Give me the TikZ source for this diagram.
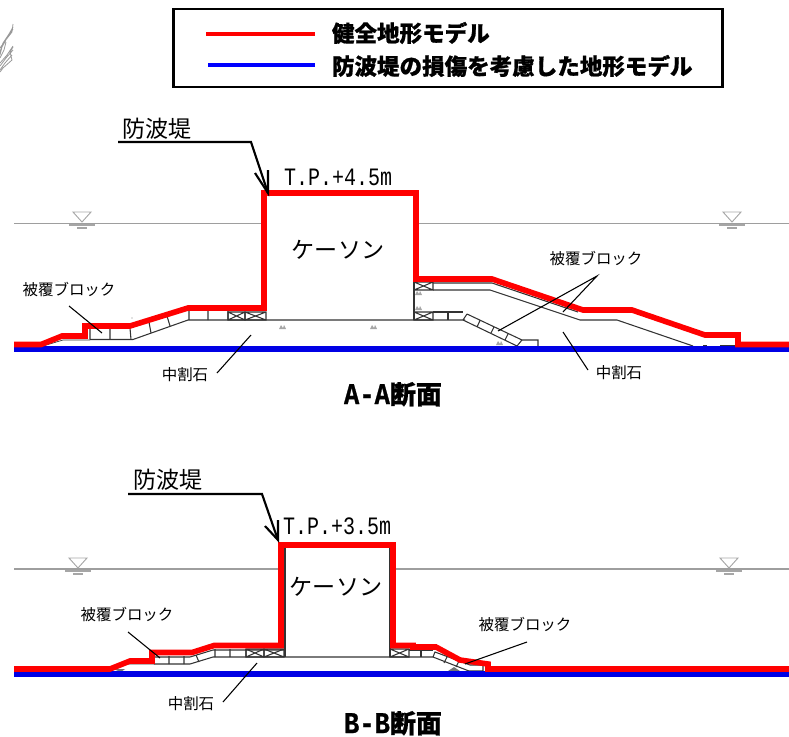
\documentclass[tikz,border=0pt]{standalone}
\usepackage{fontspec}
\newfontfamily\jp[BoldFeatures={FakeBold=0.7}]{Noto Sans CJK JP}
\newfontfamily\mono[FakeStretch=0.8]{Liberation Mono}
\newfontfamily\monob[FakeStretch=0.85,FakeBold=0.8]{Liberation Mono Bold}
\newcommand{\fs}[1]{\fontsize{#1pt}{#1pt}\selectfont}
\newcommand{\xbox}[4]{\draw[struct] (#1,#2) rectangle (#3,#4) (#1,#2) -- (#3,#4) (#1,#4) -- (#3,#2);}
\newcommand{\wsym}[2]{%
  \draw[symb] (#1-9,#2) -- (#1+9,#2) -- (#1,#2+10) -- cycle;
  \draw[symb,line width=1.4pt] (#1-13,#2+13) -- (#1+13,#2+13);
  \draw[symb,line width=1.4pt] (#1-5,#2+16) -- (#1+5,#2+16);}
\newcommand{\blob}[2]{\fill[gray!70] (#1-3,#2+2) -- (#1-1,#2-2) -- (#1+1,#2+1) -- (#1+2,#2-2) -- (#1+4,#2+2) -- cycle;}
\tikzset{
  x=0.75pt,y=-0.75pt,
  every node/.style={inner sep=0pt,outer sep=0pt,font=\jp},
  redline/.style={draw=red,line width=4.2pt,miter limit=10},
  blueline/.style={draw=blue!90!black,line width=3.8pt},
  water/.style={draw=black!38,line width=0.9pt},
  symb/.style={draw=black!35,line width=0.7pt},
  struct/.style={draw=black!80,line width=0.8pt},
  leader/.style={draw=black,line width=0.8pt},
  callout/.style={draw=black,line width=1.6pt},
  smalllabel/.style={font=\jp\fs{11.6}},
  bigkana/.style={font=\jp\fs{17.3}},
  legendtext/.style={font=\jp\bfseries\fs{16.9},anchor=west},
  sectitle/.style={font=\jp\bfseries\fs{19.5}},
  level/.style={font=\mono\fs{18.75},anchor=west},
}
\begin{document}
\begin{tikzpicture}
\useasboundingbox (0,0) rectangle (789,736);
% corner scribble
\draw[black!40,line width=0.6pt] (13,24) -- (12,32) -- (5,41) -- (0,48)
  (13,27) -- (9,34) -- (3,43) -- (0,52)
  (13,29) -- (7,38) -- (2,47) -- (0,55)
  (6,42) -- (4,50) -- (0,58)
  (13,47) -- (10,52) -- (12,60) -- (3,68) -- (0,72)
  (13,50) -- (6,58) -- (0,66)
  (13,46) -- (7,55) -- (0,63)
  (12,55) -- (5,63) -- (0,70);
% legend
\node[draw=black,line width=1.6pt,minimum width=411.75pt,minimum height=58.5pt,anchor=north west] (legend) at (173.5,9) {};
\coordinate (lr1) at (206,34); \coordinate (lr2) at (315,34);
\coordinate (lb1) at (208,65); \coordinate (lb2) at (315,65);
\draw[draw=red,line width=3pt] (lr1) -- (lr2);
\draw[draw=blue,line width=3pt] (lb1) -- (lb2);
\node[legendtext] (leg1) at (332,33) {健全地形モデル};
\node[legendtext] (leg2) at (332,66) {防波堤の損傷を考慮した地形モデル};

% ---------- Section A ----------
\draw[water] (14,223.5) -- (263,223.5) (416,223.5) -- (789,223.5);
\wsym{82}{212}
\wsym{732}{212}
% left structure
\draw[struct,line width=0.5pt] (43,346) -- (63,340) -- (90,340);
\draw[struct] (90,339.5) -- (133,339.5) -- (188,320) -- (465,320);
\draw[struct] (90,328) -- (90,339.5) (110,329) -- (110,339.5) (130,328) -- (131,339.5)
  (149,322) -- (151,333) (167,316) -- (170,326) (189,310) -- (189,320) (208,310) -- (208,320) (228,310) -- (228,320);
\xbox{228}{312}{245}{320}
\xbox{245}{312}{266}{320}
\blob{282}{327}
\blob{373}{327}
\fill[black!50] (132,318) circle (0.7);
% right structure
\draw[struct] (414,279) -- (414,320);
\xbox{414}{282}{433}{290}
\xbox{414}{312}{433}{320}
\draw[struct] (433,283) -- (492,283) -- (578,312);
\draw[struct] (433,290) -- (490,290) -- (580,320) -- (617,320) -- (693,346);
\draw[struct] (433,312) -- (463,312) (448,312) -- (448,320);
\draw[struct] (463,320) -- (517,346) (467,314) -- (522,340) -- (538,340) -- (538,346) (467,314) -- (463,320)
  (480,320.5) -- (477,327) (494,327) -- (491,333) (508,334) -- (505,340) (522,340) -- (517,346);
\blob{418}{293}
\blob{418}{308}
\blob{499}{343}
\draw[struct,line width=1pt] (703,346) -- (707,346) (720,346) -- (735,346);
% profiles
\draw[blueline] (14,349) -- (789,349);
\draw[redline] (14,344.5) -- (41,344.5) -- (62,336) -- (85,336) -- (85,326) -- (130,326) -- (188,308) -- (264,308) -- (264,193) -- (416,193) -- (416,279) -- (492,279) -- (583,310) -- (632,310) -- (705,335) -- (738,335) -- (738,344.5) -- (789,344.5);
% labels
\node[bigkana] (caisA) at (338,250) {ケーソン};
\node[bigkana,anchor=west] (bwA) at (122,129) {防波堤};
\coordinate (bwAs) at (118,142); \coordinate (bwAk) at (251,142); \coordinate (bwAt) at (268,193);
\draw[callout] (bwAs) -- (bwAk) -- (bwAt);
\coordinate (bwAb1) at (255,173); \coordinate (bwAb2) at (268,170);
\draw[callout,line join=miter] (bwAb1) -- (bwAt) -- (bwAb2);
\node[level] (tpA) at (284,177) {T.P.+4.5m};
\node[smalllabel] (blkA1) at (69,290) {被覆ブロック};
\coordinate (a1) at (69,306); \coordinate (a2) at (102,333);
\draw[leader] (a1) -- (a2);
\node[smalllabel] (nwA1) at (185,375) {中割石};
\coordinate (a3) at (217,373); \coordinate (a4) at (251,335);
\draw[leader] (a3) -- (a4);
\node[smalllabel] (blkA2) at (596,259) {被覆ブロック};
\coordinate (a5) at (597,276); \coordinate (a6) at (498,331); \coordinate (a7) at (563,312);
\draw[leader] (a6) -- (a5) -- (a7);
\node[smalllabel] (nwA2) at (619,373) {中割石};
\coordinate (a8) at (563,332); \coordinate (a9) at (588,370);
\draw[leader] (a8) -- (a9);
\node[sectitle,anchor=base west] (titA) at (344,404) {\smash{{\monob\fs{22.5}A-A}断面}};

% ---------- Section B ----------
\draw[water,line width=1.1pt] (14,569) -- (284,569) (391,569) -- (789,569);
\wsym{78}{558}
\wsym{729}{558}
\draw[struct] (285,548) -- (285,657) (390,548) -- (390,657);
\draw[struct,line width=0.5pt] (110,669) -- (128,664) -- (154,664);
\draw[struct] (154,664) -- (190,664) -- (213,657) -- (433,657);
\draw[struct] (154,655) -- (154,664) (169,656) -- (169,664) (184,656) -- (184,664)
  (196,655) -- (199,662) (215,649) -- (215,657) (230,649) -- (230,657) (246,649) -- (246,657);
\draw[struct] (154,657) -- (190,657) -- (213,650) -- (284,650);
\xbox{246}{649}{264}{657}
\xbox{264}{649}{284}{657}
\xbox{390}{649}{409}{657}
\draw[struct] (409,650) -- (433,650) (421,650) -- (421,657);
\draw[struct] (433,657) -- (469,671) -- (483,671) -- (483,665) -- (470,665) -- (435,652) -- (433,657)
  (447,657) -- (444,663) (459,661) -- (456,667);
\fill[black!55] (113,669) -- (125,669) -- (121,672) -- cycle;
\fill[black!55] (448,671) -- (454,667) -- (460,671) -- cycle;
\draw[blueline] (14,674) -- (789,674);
\draw[redline] (14,669) -- (110,669) -- (130,661) -- (152,661) -- (152,652.5) -- (192,652.5) -- (214,645.5) -- (281,645.5) -- (281,545) -- (393,545) -- (393,645.5) -- (413,645.5) -- (413,647) -- (436,647) -- (460,660) -- (488,664) -- (488,669) -- (789,669);
\node[bigkana] (caisB) at (336,587) {ケーソン};
\node[bigkana,anchor=west] (bwB) at (133,480) {防波堤};
\coordinate (bwBs) at (128,494); \coordinate (bwBk) at (262,494); \coordinate (bwBt) at (278,540);
\draw[callout] (bwBs) -- (bwBk) -- (bwBt);
\coordinate (bwBb1) at (265,526); \coordinate (bwBb2) at (278,520);
\draw[callout,line join=miter] (bwBb1) -- (bwBt) -- (bwBb2);
\node[level] (tpB) at (283,526) {T.P.+3.5m};
\node[smalllabel] (blkB1) at (127,615) {被覆ブロック};
\coordinate (b1) at (128,632); \coordinate (b2) at (160,658);
\draw[leader] (b1) -- (b2);
\node[smalllabel] (nwB) at (191,704) {中割石};
\coordinate (b3) at (223,702); \coordinate (b4) at (257,663);
\draw[leader] (b3) -- (b4);
\node[smalllabel] (blkB2) at (525,625) {被覆ブロック};
\coordinate (b5) at (527,642); \coordinate (b6) at (465,664);
\draw[leader] (b5) -- (b6);
\node[sectitle,anchor=base west] (titB) at (344,733) {\smash{{\monob\fs{22.5}B-B}断面}};
\end{tikzpicture}
\end{document}
